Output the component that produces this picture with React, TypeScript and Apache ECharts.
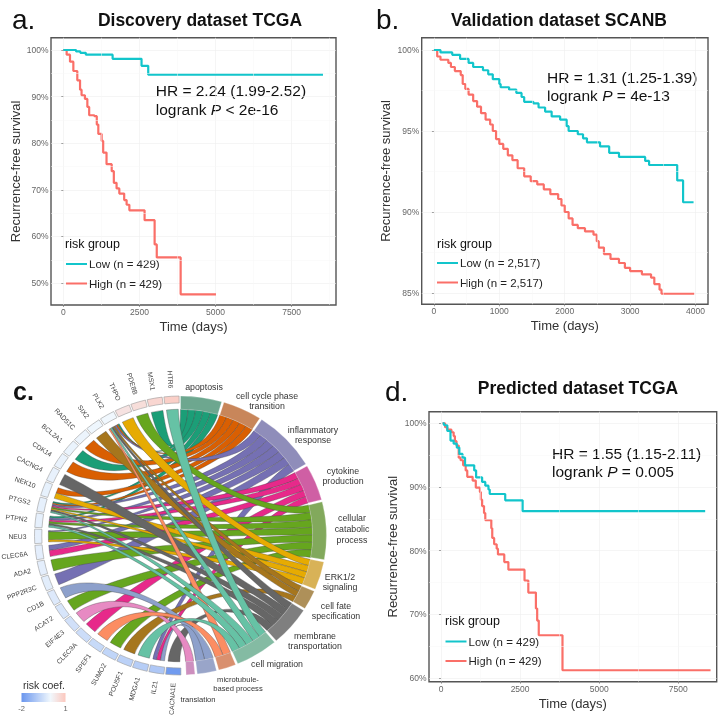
import React, { useEffect, useRef } from "react";
import * as echarts from "echarts";

const FONT = '"Liberation Sans", Arial, sans-serif';
const LOW = "#12c5cb";
const HIGH = "#fa6f68";

// ---------- survival data: [time in days, survival %] ----------
const lowA = [[0,100],[420,99.7],[560,99.4],[740,99],[1620,98.1],[2570,96.6],[2790,94.7],[8530,94.7]];
const highA = [[0,100],[110,99],[220,97.5],[330,95.5],[460,93.5],[550,91.5],[600,90.3],[710,89.5],[790,87.8],[850,86],[1020,85.8],[1100,84],[1150,82],[1260,80.5],[1310,78],[1420,75.5],[1590,74],[1660,71.5],[1750,70.3],[1840,69.2],[2000,67.8],[2080,66.8],[2170,65.6],[2670,63.5],[3000,58.3],[3070,55.5],[3855,47.6],[5015,47.6]];
const lowB = [[0,100],[100,99.85],[280,99.7],[400,99.45],[530,99.2],[600,98.95],[750,98.75],[830,98.5],[900,98.2],[1000,97.9],[1020,97.7],[1150,97.55],[1260,97.35],[1340,97.1],[1380,96.8],[1520,96.7],[1600,96.45],[1700,96.2],[1800,95.9],[1930,95.7],[2030,95.3],[2060,95],[2200,94.8],[2280,94.55],[2340,94.3],[2540,94.05],[2680,93.65],[2830,93.4],[3230,93.15],[3290,92.9],[3720,91.95],[3810,90.6],[3970,90.6]];
const highB = [[0,100],[50,99.6],[100,99.4],[220,99.2],[260,98.95],[320,98.7],[410,98.45],[440,97.9],[480,97.6],[530,97.25],[600,96.85],[660,96.5],[720,96.1],[790,95.7],[860,95.4],[900,95],[950,94.5],[1000,94.2],[1060,93.9],[1130,93.5],[1200,93.2],[1280,92.7],[1380,92.2],[1480,91.9],[1580,91.7],[1680,91.4],[1780,91.1],[1900,90.8],[1950,90.4],[2000,90],[2060,89.6],[2120,89.2],[2200,89],[2310,88.8],[2440,88.6],[2490,88.2],[2520,87.8],[2600,87.4],[2700,87.1],[2830,86.85],[2920,86.55],[3000,86.35],[3180,86.15],[3320,85.95],[3370,85.55],[3450,85.2],[3480,84.95],[3980,84.95]];
const lowD = [[50,100],[100,99.7],[200,98.8],[300,97.3],[400,96.8],[500,96.2],[580,95.2],[680,94.6],[760,93.4],[1050,92.6],[1110,91.5],[1300,90.8],[1400,90.2],[1500,89.6],[1540,88.9],[2030,87.9],[2580,86.2],[8350,86.2]];
const highD = [[50,100],[130,99.4],[200,99],[330,98.6],[400,98],[440,97.2],[490,96.5],[560,94.6],[620,94.2],[700,93.4],[780,92.6],[830,91.6],[1000,91],[1100,89.9],[1230,89.2],[1260,88],[1300,87],[1360,85.9],[1400,84.8],[1590,83.5],[1620,82],[1680,81],[1760,80.3],[1800,79.4],[2000,78.2],[2130,77],[2640,75.3],[2760,73.4],[3000,70.9],[3040,69],[3090,66.7],[3840,61.2],[8520,61.2]];

const ticksX7500 = [0, 2500, 5000, 7500];
const ticksX4000 = [0, 1000, 2000, 3000, 4000];
const ticksY50 = [50, 60, 70, 80, 90, 100];
const ticksY85 = [85, 90, 95, 100];
const ticksY60 = [60, 70, 80, 90, 100];
const minorX7500 = [1250, 3750, 6250, 8750];
const minorX4000 = [500, 1500, 2500, 3500];
const minorY50 = [55, 65, 75, 85, 95];
const minorY85 = [87.5, 92.5, 97.5];
const minorY60 = [65, 75, 85, 95];

// ---------- chord data ----------
const geneNames = ["HTR6","MSX1","PDE8B","THPO","PLK2","SIX2","RAD51C","BCL2A1","CDK14","CACNG4","NEK10","PTGS2","PTPN2","NEU3","CLEC6A","ADA2","PPP2R3C","CD1B","ACAT2","EIF4E3","CLEC9A","SPEF1","SUMO2","POU5F1","MDGA1","IL21","CACNA1E"];
const geneCoefs = [0.85,0.7,0.55,0.45,-0.02,-0.05,-0.08,-0.1,-0.12,-0.14,-0.15,-0.16,-0.17,-0.18,-0.2,-0.2,-0.22,-0.3,-0.38,-0.48,-0.55,-0.62,-0.72,-0.8,-0.88,-1.0,-1.9];
const termNames = ["apoptosis","cell cycle phase\ntransition","inflammatory\nresponse","cytokine\nproduction","cellular\ncatabolic\nprocess","ERK1/2\nsignaling","cell fate\nspecification","membrane\ntransportation","cell migration","microtubule-\nbased process","","translation"];
const termSizes = [16.4,15.6,25.4,15,24,11.8,8,16.5,17,7,7.7,3.5];
// each link: gene, term, share of the gene's arc
const links: [string, number, number][] = [
  ["MSX1",0,1],["PLK2",0,0.14],["BCL2A1",0,1],["PTGS2",0,0.2],["PTPN2",0,0.2],
  ["PLK2",1,0.14],["RAD51C",1,1],["CDK14",1,1],["NEK10",1,0.5],["PTGS2",1,0.2],
  ["PLK2",2,0.14],["PTGS2",2,0.2],["PTPN2",2,0.2],["NEU3",2,0.1],["CLEC6A",2,0.45],["PPP2R3C",2,1],["IL21",2,0.33],
  ["PTGS2",3,0.2],["PTPN2",3,0.2],["CLEC6A",3,0.55],["CLEC9A",3,1],["IL21",3,0.33],
  ["PDE8B",4,1],["PTGS2",4,0.2],["PTPN2",4,0.2],["NEU3",4,0.8],["ADA2",4,1],["ACAT2",4,1],["SUMO2",4,1],
  ["THPO",5,1],["NEK10",5,0.5],["PTGS2",5,0.2],["NEU3",5,0.2],
  ["PLK2",6,0.14],["SIX2",6,1],["POU5F1",6,1],
  ["PLK2",7,0.14],["CACNG4",7,1],["PTGS2",7,0.2],["PTPN2",7,0.2],["CACNA1E",7,1],
  ["HTR6",8,1],["PLK2",8,0.14],["PTGS2",8,0.2],["PTPN2",8,0.2],["MDGA1",8,1],
  ["PLK2",9,0.14],["SPEF1",9,1],
  ["CD1B",10,1],["IL21",10,0.34],
  ["EIF4E3",11,1],
];
const ribbonPalette = ["#1b9e77","#d95f02","#7570b3","#e7298a","#66a61e","#e6ab02","#a6761d","#666666","#66c2a5","#fc8d62","#8da0cb","#e78ac3"];
const boxPalette = ["#6da78f","#c8865a","#8f8dba","#cf5fa4","#82a95c","#d8b257","#ae9059","#7f7f7f","#84bba3","#d9906f","#99a5c9","#cd8fbe"];

// ---------- chord geometry ----------
const CX = 180.5, CY = 535.5, RX = 146, RY = 139.5;
const pt = (deg: number, f: number): [number, number] => {
  const t = (deg * Math.PI) / 180;
  return [CX + RX * f * Math.sin(t), CY - RY * f * Math.cos(t)];
};
const fmt = (p: number[]) => `${p[0].toFixed(2)} ${p[1].toFixed(2)}`;
const arcTo = (deg: number, f: number, sweep: number) => `A ${RX * f} ${RY * f} 0 0 ${sweep} ${fmt(pt(deg, f))}`;
const sectorPath = (t1: number, t2: number, f0: number, f1: number) =>
  `M ${fmt(pt(t1, f1))} ${arcTo(t2, f1, 1)} L ${fmt(pt(t2, f0))} ${arcTo(t1, f0, 0)} Z`;
const hex = (c: string) => [1, 3, 5].map((i) => parseInt(c.slice(i, i + 2), 16));
const coefColor = (v: number) => {
  const a = hex("#f1f8fd");
  const b = v < 0 ? hex("#6a96ee") : hex("#fcc8be");
  const k = v < 0 ? Math.min(1, -v / 2) : Math.min(1, v);
  return `rgb(${a.map((x, i) => Math.round(x + (b[i] - x) * k)).join(",")})`;
};

function buildChordElements() {
  const els: any[] = [];
  const GENE_START = 359.8, GENE_STEP = 180.3 / geneNames.length, GENE_GAP = 0.7;
  const geneSpan = (i: number): [number, number] => [GENE_START - (i + 1) * GENE_STEP + GENE_GAP / 2, GENE_START - i * GENE_STEP - GENE_GAP / 2];

  const TERM_GAP = 0.9;
  let cursor = 0;
  const termSpan: [number, number][] = termSizes.map((s) => {
    const r: [number, number] = [cursor, cursor + s];
    cursor += s + TERM_GAP;
    return r;
  });

  // slots
  const indexed = links.map((l, i) => ({ g: geneNames.indexOf(l[0]), t: l[1], w: l[2], i }));
  const ribbons: any[] = [];
  termSpan.forEach((sp, t) => {
    const own = indexed.filter((l) => l.t === t).sort((a, b) => a.g - b.g);
    own.forEach((l, k) => {
      const d = (sp[1] - sp[0]) / own.length;
      ribbons.push({ ...l, b1: sp[0] + k * d, b2: sp[0] + (k + 1) * d });
    });
  });
  geneNames.forEach((_, g) => {
    const own = ribbons.filter((l) => l.g === g).sort((a, b) => a.t - b.t);
    const total = own.reduce((s, l) => s + l.w, 0);
    const [lo, hi] = geneSpan(g);
    const c = (lo + hi) / 2, half = ((hi - lo) / 2) * 0.86;
    let top = c + half;
    own.forEach((l) => {
      const d = ((2 * half) * l.w) / total;
      l.a2 = top;
      l.a1 = top - d;
      top -= d;
    });
  });

  const F = 0.905;
  const K = 0.62; // how far a ribbon's control points stay from the centre
  const ctrl = (deg: number) => fmt(pt(deg, F * K));
  const drawOrder = [0, 1, 2, 3, 4, 5, 6, 7, 10, 11, 9, 8];
  drawOrder.forEach((t) => {
    ribbons.filter((r) => r.t === t).forEach((r) => {
      const d = `M ${fmt(pt(r.a1, F))} ${arcTo(r.a2, F, 1)} C ${ctrl(r.a2)} ${ctrl(r.b1)} ${fmt(pt(r.b1, F))} ${arcTo(r.b2, F, 1)} C ${ctrl(r.b2)} ${ctrl(r.a1)} ${fmt(pt(r.a1, F))} Z`;
      els.push({ type: "path", shape: { pathData: d }, style: { fill: ribbonPalette[t], stroke: "#444", lineWidth: 0.35 } });
    });
  });

  // term boxes + labels
  const labelPos: [number, number, number][] = [[204,387,8.8],[267,401,8.8],[313,435,8.8],[343,476,8.8],[352,529,8.8],[340,582,8.8],[336,611,8.8],[315,641,8.8],[277,664,8.8],[238,684,7.6],[0,0,0],[198,699,7.6]];
  termSpan.forEach((sp, t) => {
    els.push({ type: "path", shape: { pathData: sectorPath(sp[0], sp[1], F, 1) }, style: { fill: boxPalette[t], stroke: "#ffffff", lineWidth: 0.3 } });
    if (termNames[t]) {
      const [x, y, size] = labelPos[t];
      els.push({ type: "text", x, y, style: { text: termNames[t], fontSize: size, lineHeight: size + 2, fontFamily: FONT, fill: "#333", align: "center", verticalAlign: "middle" } });
    }
  });

  // gene boxes + labels
  geneNames.forEach((name, g) => {
    const [lo, hi] = geneSpan(g);
    els.push({ type: "path", shape: { pathData: sectorPath(lo, hi, 0.95, 1) }, style: { fill: coefColor(geneCoefs[g]), stroke: "#9a9a9a", lineWidth: 0.6 } });
    const c = (lo + hi) / 2, t = (c * Math.PI) / 180;
    els.push({
      type: "text",
      x: CX + (RX + 8) * Math.sin(t),
      y: CY - (RY + 8) * Math.cos(t),
      rotation: ((270 - c) * Math.PI) / 180,
      style: { text: name, fontSize: 6.8, fontFamily: FONT, fill: "#444", align: "right", verticalAlign: "middle" },
    });
  });
  return els;
}

// ---------- panels ----------
function panel(i: number, box: number[], xr: number[], yr: number[], xt: number[], yt: number[], xm: number[], ym: number[], low: number[][], high: number[][], n: string, nameGapY: number) {
  const [l, t, w, h] = box;
  const axisLine = { show: false };
  const tick = { show: true, length: 2, lineStyle: { color: "#666", width: 0.6 } };
  const split = { show: true, lineStyle: { color: "#efefef", width: 0.6 } };
  const labelStyle = { color: "#666", fontSize: 8.5, fontFamily: FONT, margin: 2.5 };
  const nameStyle = { color: "#333", fontSize: 13, fontFamily: FONT };
  const grid = { left: l, top: t, width: w, height: h, show: true, borderColor: "#555", borderWidth: 1.4, backgroundColor: "#fff", containLabel: false };
  const xAxis = {
    gridIndex: i, type: "value", min: xr[0], max: xr[1], axisLine, name: "Time (days)", nameLocation: "middle", nameGap: 15, nameTextStyle: nameStyle,
    axisTick: { ...tick, customValues: xt }, axisLabel: { ...labelStyle, customValues: xt, formatter: (v: number) => `${v}` }, splitLine: split,
  };
  const yAxis = {
    gridIndex: i, type: "value", min: yr[0], max: yr[1], axisLine, name: "Recurrence-free survival", nameLocation: "middle", nameGap: nameGapY, nameTextStyle: nameStyle,
    axisTick: { ...tick, customValues: yt }, axisLabel: { ...labelStyle, customValues: yt, formatter: (v: number) => `${v}%` }, splitLine: split,
  };
  const base = { type: "line", step: "end", symbol: "none", xAxisIndex: i, yAxisIndex: i, silent: true };
  const series = [
    {
      ...base, name: `High (n = ${n})`, data: high, z: 3, lineStyle: { color: HIGH, width: 2.2 }, itemStyle: { color: HIGH },
      markLine: { silent: true, symbol: "none", label: { show: false }, lineStyle: { color: "#f6f6f6", width: 0.5, type: "solid" }, data: [...xm.map((v) => ({ xAxis: v })), ...ym.map((v) => ({ yAxis: v }))] },
    },
    { ...base, name: `Low (n = ${n})`, data: low, z: 4, lineStyle: { color: LOW, width: 2.2 }, itemStyle: { color: LOW } },
  ];
  return { grid, xAxis, yAxis, series };
}

const text = (x: number, y: number, t: string, size: number, extra: any = {}) => ({
  type: "text", x, y, silent: true,
  style: { text: t, fontSize: size, fontFamily: FONT, fill: "#111", align: "left", verticalAlign: "middle", ...extra },
});
const hrText = (x: number, y: number, hr: string, p: string) => [
  text(x, y, hr, 15.5),
  text(x, y + 18.5, `logrank {i|P} ${p}`, 15.5, { rich: { i: { fontStyle: "italic", fontSize: 15.5, fontFamily: FONT, fill: "#111" } } }),
];
const legendOf = (left: number, top: number, n: string) => ({
  left, top, orient: "vertical", padding: 0, itemWidth: 21, itemHeight: 2, itemGap: 7.5, selectedMode: false, icon: "rect",
  data: [`Low (n = ${n})`, `High (n = ${n})`],
  textStyle: { fontSize: 11.5, fontFamily: FONT, color: "#222", padding: [0, 0, 0, -3] },
});

export default function App() {
  const ref = useRef<HTMLDivElement>(null);
  useEffect(() => {
    const chart = echarts.init(ref.current!, null, { renderer: "svg" });
    const pa = panel(0, [51, 37.7, 285, 267.3], [-404, 8958], [45.3, 102.64], ticksX7500, ticksY50, minorX7500, minorY50, lowA, highA, "429", 29);
    const pb = panel(1, [421.7, 37.7, 286.3, 266.6], [-187, 4191], [84.3, 100.76], ticksX4000, ticksY85, minorX4000, minorY85, lowB, highB, "2,517", 30);
    const pd = panel(2, [429, 411.7, 287.7, 270], [-379, 8714], [59.4, 101.83], ticksX7500, ticksY60, minorX7500, minorY60, lowD, highD, "429", 30);
    const els = buildChordElements();
    const chord = {
      type: "custom", coordinateSystem: "none", silent: true, z: 5,
      data: els.map((_, i) => i),
      renderItem: (params: any) => els[params.dataIndex],
    };
    chart.setOption({
      animation: false,
      backgroundColor: "#fff",
      grid: [pa.grid, pb.grid, pd.grid],
      xAxis: [pa.xAxis, pb.xAxis, pd.xAxis],
      yAxis: [pa.yAxis, pb.yAxis, pd.yAxis],
      legend: [legendOf(66, 258, "429"), legendOf(437, 257, "2,517"), legendOf(445.5, 635.5, "429")],
      series: [...pa.series, ...pb.series, ...pd.series, chord],
      graphic: {
        elements: [
          text(12, 19, "a.", 28),
          text(376, 19, "b.", 28),
          text(13, 391, "c.", 25, { fontWeight: "bold" }),
          text(385, 391, "d.", 28),
          text(200, 19.5, "Discovery dataset TCGA", 17.5, { fontWeight: "bold", align: "center" }),
          text(559, 19.5, "Validation dataset SCANB", 17.5, { fontWeight: "bold", align: "center" }),
          text(578, 388, "Predicted dataset TCGA", 17.5, { fontWeight: "bold", align: "center" }),
          ...hrText(155.7, 90.5, "HR = 2.24 (1.99-2.52)", "< 2e-16"),
          ...hrText(547, 77, "HR = 1.31 (1.25-1.39)", "= 4e-13"),
          ...hrText(552, 453, "HR = 1.55 (1.15-2.11)", "= 0.005"),
          text(65, 243.5, "risk group", 12.5),
          text(437, 243.5, "risk group", 12.5),
          text(445, 621, "risk group", 12.5),
          text(44, 685, "risk coef.", 10.5, { align: "center", fill: "#333" }),
          {
            type: "rect", silent: true, shape: { x: 21.5, y: 693, width: 44, height: 9 },
            style: { fill: new echarts.graphic.LinearGradient(0, 0, 1, 0, [{ offset: 0, color: "#6a96ee" }, { offset: 0.66, color: "#f1f8fd" }, { offset: 1, color: "#fcc8be" }]) },
          },
          text(21.5, 708, "-2", 7.5, { align: "center", fill: "#666" }),
          text(65.5, 708, "1", 7.5, { align: "center", fill: "#666" }),
        ],
      },
    });
    return () => chart.dispose();
  }, []);
  return <div ref={ref} style={{ position: "fixed", left: 0, top: 0, width: 720, height: 715, filter: "blur(0.35px)" }} />;
}
